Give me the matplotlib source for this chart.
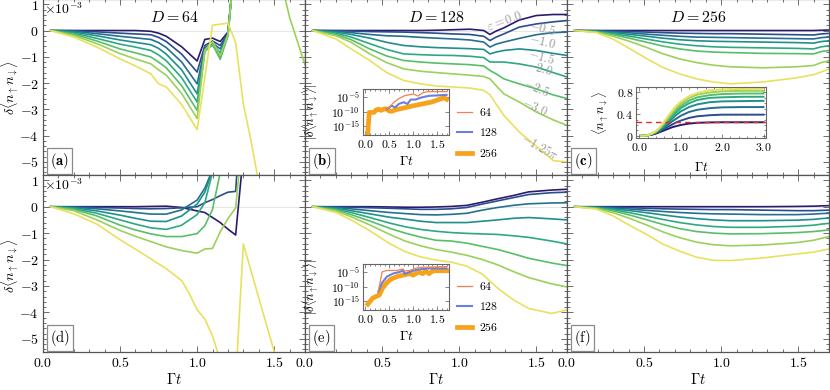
import numpy as np
import matplotlib
matplotlib.use("Agg")
import matplotlib.pyplot as plt
from matplotlib.ticker import MultipleLocator, FixedLocator, FuncFormatter, NullLocator

# ---------------------------------------------------------------- data
EPS_LABELS = [r"$\varepsilon = 0.0$", r"$-0.5$", r"$-1.0$", r"$-1.5$",
              r"$-2.0$", r"$-2.5$", r"$-3.0$", r"$-1.25\pi$"]
PANEL_TITLES = [r"$D = 64$", r"$D = 128$", r"$D = 256$"]
PANEL_TAGS = ["(a)", "(b)", "(c)", "(d)", "(e)", "(f)"]
X_TICKS = [0.0, 0.5, 1.0, 1.5]
Y_TICKS = [1, 0, -1, -2, -3, -4, -5]
BOND_DIMS = [r"$64$", r"$128$", r"$256$"]

# panel (a)  D=64, top row
T_A = [0.05, 0.2, 0.35, 0.5, 0.6, 0.7, 0.75, 0.8, 0.9, 1.0, 1.05, 1.1, 1.15, 1.2, 1.25]
A0 = [0, 0, 0, 0, 0, -0.03, -0.1, -0.22, -0.62, -1.16, -0.34, -0.29, -0.42, -0.06, 3.0]
A1 = [0, -0.01, -0.05, -0.1, -0.13, -0.16, -0.26, -0.42, -0.9, -1.58, -0.57, -0.4, -0.57, -0.1, 3.0]
A2 = [0, -0.03, -0.12, -0.22, -0.28, -0.34, -0.46, -0.65, -1.2, -2.03, -0.65, -0.48, -0.7, -0.12, 3.0]
A3 = [0, -0.06, -0.2, -0.36, -0.45, -0.54, -0.68, -0.9, -1.5, -2.41, -0.72, -0.52, -0.85, -0.15, 3.0]
A4 = [0, -0.1, -0.3, -0.52, -0.63, -0.76, -0.93, -1.15, -1.8, -2.72, -0.76, -0.55, -1.0, -0.18, 3.0]
A5 = [0, -0.14, -0.4, -0.7, -0.85, -1.01, -1.2, -1.42, -2.1, -3.04, -0.8, -0.52, -1.1, -0.2, 3.0]
T_A6 = [0.05, 0.2, 0.35, 0.5, 0.6, 0.7, 0.75, 0.8, 0.9, 1.0, 1.05, 1.1, 1.15, 1.2, 1.25, 1.5, 1.6, 1.7]
A6 = [0, -0.19, -0.5, -0.88, -1.08, -1.27, -1.5, -1.7, -2.4, -3.35, -0.75, -0.42, -0.95, -0.15, 3.0, 3.0, 0.5, -1.3]
T_A7 = [0.05, 0.2, 0.35, 0.5, 0.6, 0.7, 0.75, 0.8, 0.9, 1.0, 1.1, 1.2, 1.25, 1.3, 1.35, 1.4]
A7 = [0, -0.25, -0.63, -1.08, -1.35, -1.65, -2.03, -2.15, -2.82, -3.77, 0.2, 0.28, -0.45, -2.8, -4.2, -5.8]

# panel (b)  D=128, top row
T_B = [0.05, 0.2, 0.3, 0.42, 0.53, 0.64, 0.75, 0.85, 0.96, 1.07, 1.16, 1.2, 1.24, 1.29, 1.39, 1.5, 1.61, 1.7]
B0 = [0, 0, 0, 0, 0, 0, 0, 0.01, 0.03, 0.05, 0.0, -0.15, -0.02, 0.1, 0.4, 0.57, 0.61, 0.61]
B1 = [0, -0.01, -0.02, -0.04, -0.05, -0.06, -0.08, -0.1, -0.13, -0.15, -0.22, -0.38, -0.25, -0.13, 0.13, 0.25, 0.33, 0.38]
B2 = [0, -0.03, -0.08, -0.15, -0.2, -0.22, -0.26, -0.29, -0.32, -0.36, -0.44, -0.63, -0.52, -0.44, -0.3, -0.16, -0.08, -0.06]
B3 = [0, -0.06, -0.15, -0.29, -0.45, -0.57, -0.62, -0.65, -0.67, -0.69, -0.72, -0.89, -0.82, -0.76, -0.7, -0.76, -0.87, -0.95]
B4 = [0, -0.1, -0.25, -0.5, -0.72, -0.89, -0.92, -0.94, -0.95, -0.98, -1.03, -1.2, -1.2, -1.2, -1.27, -1.39, -1.6, -1.77]
B5 = [0, -0.15, -0.35, -0.7, -0.97, -1.14, -1.2, -1.24, -1.27, -1.3, -1.35, -1.52, -1.65, -1.84, -2.03, -2.22, -2.45, -2.59]
B6 = [0, -0.2, -0.45, -0.89, -1.22, -1.46, -1.55, -1.6, -1.65, -1.7, -1.75, -1.84, -2.1, -2.41, -2.72, -3.1, -3.4, -3.61]
B7 = [0, -0.32, -0.7, -1.14, -1.6, -1.9, -2.03, -2.11, -2.15, -2.19, -2.28, -2.45, -2.8, -3.23, -3.86, -4.4, -4.95, -5.0]

# panel (c)  D=256, top row
T_C = [0.05, 0.19, 0.3, 0.41, 0.52, 0.62, 0.73, 0.84, 0.95, 1.06, 1.27, 1.49, 1.6, 1.65, 1.7]
C0 = [0, 0, 0, 0, 0, 0, 0, 0, 0, 0, 0, 0, 0, 0.01, 0.02]
C1 = [0, -0.01, -0.02, -0.04, -0.06, -0.08, -0.1, -0.11, -0.12, -0.12, -0.14, -0.16, -0.17, -0.13, -0.11]
C2 = [0, -0.02, -0.05, -0.09, -0.14, -0.18, -0.22, -0.25, -0.26, -0.27, -0.29, -0.31, -0.32, -0.27, -0.25]
C3 = [0, -0.03, -0.08, -0.15, -0.22, -0.29, -0.35, -0.39, -0.41, -0.42, -0.44, -0.46, -0.48, -0.42, -0.39]
C4 = [0, -0.04, -0.12, -0.22, -0.33, -0.43, -0.52, -0.58, -0.62, -0.64, -0.66, -0.68, -0.7, -0.62, -0.58]
C5 = [0, -0.05, -0.16, -0.3, -0.45, -0.59, -0.7, -0.78, -0.82, -0.84, -0.87, -0.88, -0.89, -0.8, -0.76]
C6 = [0, -0.06, -0.22, -0.42, -0.65, -0.88, -1.08, -1.22, -1.32, -1.38, -1.42, -1.38, -1.33, -1.22, -1.15]
C7 = [0, -0.08, -0.33, -0.7, -1.08, -1.4, -1.65, -1.84, -1.96, -2.03, -1.96, -1.8, -1.68, -1.58, -1.46]

# panel (d)  D=64, bottom row
T_D = [0.05, 0.2, 0.35, 0.5, 0.6, 0.7, 0.8, 0.9, 1.0, 1.05, 1.1, 1.15, 1.2, 1.25, 1.3]
D0 = [0, 0, 0, 0, 0, 0.01, 0.02, -0.03, -0.16, -0.22, -0.41, -0.6, -0.85, -1.07, 2.0]
D1 = [0, -0.01, -0.03, -0.05, -0.07, -0.08, -0.07, -0.04, 0.0, 0.15, 0.27, 0.42, 0.55, 0.58, 5.0]
D2 = [0, -0.02, -0.08, -0.16, -0.22, -0.28, -0.28, -0.12, 0.25, 0.7, 1.4]
D3 = [0, -0.04, -0.16, -0.32, -0.44, -0.55, -0.56, -0.35, 0.1, 0.55, 1.35]
D4 = [0, -0.07, -0.25, -0.5, -0.66, -0.8, -0.86, -0.7, -0.3, 0.15, 1.3]
D5 = [0, -0.1, -0.35, -0.7, -0.88, -1.03, -1.13, -1.13, -1.02, -0.72, -0.1, 1.3]
D6 = [0, -0.15, -0.5, -0.9, -1.12, -1.32, -1.52, -1.66, -1.76, -1.6, -1.58, -0.95, -0.45, -0.05, 3.0]
T_D7 = [0.05, 0.2, 0.35, 0.5, 0.65, 0.8, 0.9, 0.95, 1.0, 1.05, 1.1, 1.15, 1.2, 1.25, 1.3, 1.4, 1.55]
D7 = [0, -0.27, -0.66, -1.25, -1.79, -2.35, -2.8, -3.3, -3.9, -4.25, -4.9, -5.8, -7.0, -6.6, -1.41, -3.45, -6.5]

# panel (e)  D=128, bottom row
T_E = [0.05, 0.2, 0.3, 0.42, 0.55, 0.65, 0.75, 0.85, 0.95, 1.05, 1.15, 1.25, 1.35, 1.45, 1.6, 1.7]
E0 = [0, 0, 0, 0, -0.01, -0.02, -0.02, -0.01, 0.01, 0.05, 0.17, 0.3, 0.42, 0.56, 0.63, 0.66]
E1 = [0, -0.01, -0.02, -0.04, -0.06, -0.08, -0.1, -0.1, -0.08, -0.03, 0.1, 0.22, 0.34, 0.46, 0.53, 0.55]
E2 = [0, -0.03, -0.08, -0.15, -0.22, -0.26, -0.3, -0.31, -0.29, -0.25, -0.13, -0.03, 0.05, 0.11, 0.14, 0.15]
E3 = [0, -0.06, -0.15, -0.27, -0.4, -0.47, -0.55, -0.6, -0.6, -0.6, -0.55, -0.5, -0.44, -0.41, -0.46, -0.5]
E4 = [0, -0.09, -0.22, -0.41, -0.62, -0.76, -0.86, -0.93, -0.98, -1.01, -1.03, -1.05, -1.1, -1.16, -1.3, -1.41]
E5 = [0, -0.12, -0.3, -0.54, -0.82, -1.0, -1.15, -1.27, -1.3, -1.38, -1.5, -1.62, -1.78, -1.95, -2.13, -2.23]
E6 = [0, -0.16, -0.38, -0.69, -1.05, -1.3, -1.48, -1.62, -1.72, -1.84, -2.0, -2.2, -2.45, -2.68, -2.92, -3.04]
E7 = [0, -0.22, -0.5, -0.91, -1.4, -1.7, -1.9, -2.02, -2.1, -2.25, -2.55, -3.08, -3.52, -3.85, -4.04, -3.91]

# panel (f)  D=256, bottom row
T_F = [0.05, 0.19, 0.3, 0.41, 0.52, 0.62, 0.73, 0.84, 0.95, 1.06, 1.27, 1.49, 1.6, 1.65, 1.7]
F0 = [0, 0, 0, 0, 0, 0, 0, 0, 0, 0, 0, 0.01, 0.02, 0.03, 0.04]
F1 = [0, -0.01, -0.02, -0.04, -0.06, -0.08, -0.09, -0.1, -0.11, -0.11, -0.13, -0.15, -0.15, -0.14, -0.13]
F2 = [0, -0.02, -0.05, -0.09, -0.14, -0.18, -0.22, -0.25, -0.27, -0.28, -0.3, -0.3, -0.28, -0.26, -0.25]
F3 = [0, -0.03, -0.08, -0.15, -0.23, -0.31, -0.39, -0.45, -0.5, -0.53, -0.53, -0.51, -0.48, -0.45, -0.43]
F4 = [0, -0.04, -0.12, -0.23, -0.36, -0.48, -0.6, -0.69, -0.75, -0.78, -0.78, -0.74, -0.7, -0.66, -0.63]
F5 = [0, -0.05, -0.16, -0.32, -0.5, -0.67, -0.83, -0.94, -1.0, -1.03, -1.02, -0.98, -0.94, -0.91, -0.88]
F6 = [0, -0.07, -0.23, -0.45, -0.7, -0.95, -1.17, -1.34, -1.44, -1.48, -1.45, -1.36, -1.27, -1.2, -1.13]
F7 = [0, -0.09, -0.35, -0.72, -1.06, -1.41, -1.68, -1.91, -2.03, -2.04, -1.94, -1.79, -1.72, -1.66, -1.6]

# inset (b): log10 |delta| for D = 64, 128, 256
IB_T256 = [0.05, 0.08, 0.18, 0.22, 0.28, 0.32, 0.42, 0.5, 0.55, 0.65, 0.8, 0.95, 1.1, 1.25, 1.4, 1.55, 1.65, 1.7]
IB_L256 = [-17.5, -10.3, -10.3, -9.5, -9.2, -9.6, -9.0, -9.8, -9.9, -9.3, -8.8, -8.2, -7.7, -7.2, -6.7, -5.8, -5.3, -5.8]
IB_T128 = [0.45, 0.55, 0.62, 0.7, 0.8, 0.88, 0.95, 1.05, 1.15, 1.25, 1.35, 1.5, 1.7]
IB_L128 = [-9.2, -8.0, -8.6, -7.4, -6.8, -7.4, -5.9, -5.9, -5.3, -4.9, -4.6, -4.5, -4.3]
IB_T64 = [0.45, 0.5, 0.6, 0.7, 0.82, 1.0, 1.1, 1.2, 1.3, 1.7]
IB_L64 = [-9.2, -8.5, -6.8, -5.6, -4.6, -4.0, -4.7, -3.6, -3.2, -3.2]

# inset (e)
IE_T256 = [0.05, 0.1, 0.15, 0.22, 0.29, 0.35, 0.42, 0.52, 0.66, 0.79, 0.93, 1.0, 1.06, 1.13, 1.2, 1.26, 1.33, 1.4, 1.46, 1.7]
IE_L256 = [-16.0, -15.0, -14.0, -13.4, -12.9, -10.8, -9.2, -7.6, -6.6, -6.1, -5.6, -6.1, -5.5, -5.1, -5.6, -4.7, -5.6, -4.8, -4.6, -4.6]
IE_T128 = [0.27, 0.35, 0.45, 0.59, 0.72, 0.79, 0.82, 0.93, 1.06, 1.2, 1.33, 1.7]
IE_L128 = [-11.8, -8.7, -6.6, -5.5, -5.0, -4.5, -5.7, -5.0, -4.3, -4.0, -3.8, -3.8]
IE_T64 = [0.27, 0.35, 0.45, 0.66, 0.79, 0.82, 0.93, 1.06, 1.2, 1.7]
IE_L64 = [-11.8, -5.0, -4.5, -4.5, -4.0, -4.7, -4.5, -3.7, -3.4, -3.2]

# inset (c): <n_up n_down> vs time for the eight epsilon values
IC_T = [0.05, 0.2, 0.3, 0.4, 0.5, 0.6, 0.7, 0.8, 0.9, 1.0, 1.2, 1.4, 1.7, 2.0, 2.5, 3.0]
IC0 = [0, 0.01, 0.02, 0.04, 0.07, 0.10, 0.13, 0.16, 0.18, 0.20, 0.225, 0.24, 0.247, 0.25, 0.25, 0.25]
IC1 = [0, 0.01, 0.025, 0.05, 0.085, 0.13, 0.17, 0.21, 0.25, 0.28, 0.33, 0.36, 0.38, 0.39, 0.39, 0.39]
IC2 = [0, 0.01, 0.03, 0.06, 0.1, 0.15, 0.21, 0.27, 0.32, 0.37, 0.44, 0.48, 0.51, 0.525, 0.53, 0.53]
IC3 = [0, 0.01, 0.03, 0.065, 0.115, 0.18, 0.25, 0.32, 0.39, 0.45, 0.53, 0.58, 0.62, 0.635, 0.64, 0.645]
IC4 = [0, 0.01, 0.035, 0.07, 0.13, 0.2, 0.28, 0.36, 0.44, 0.51, 0.6, 0.66, 0.7, 0.71, 0.72, 0.72]
IC5 = [0, 0.01, 0.035, 0.075, 0.14, 0.22, 0.31, 0.40, 0.48, 0.55, 0.65, 0.71, 0.75, 0.77, 0.78, 0.78]
IC6 = [0, 0.01, 0.04, 0.08, 0.15, 0.24, 0.34, 0.43, 0.52, 0.59, 0.7, 0.76, 0.8, 0.82, 0.83, 0.83]
IC7 = [0, 0.01, 0.04, 0.085, 0.16, 0.26, 0.37, 0.47, 0.56, 0.63, 0.73, 0.79, 0.84, 0.855, 0.865, 0.87]
IC_REF = 0.25

# ---------------------------------------------------------------- style
plt.rcParams["mathtext.fontset"] = "cm"
plt.rcParams["font.family"] = ["DejaVu Serif"]

W, H = 830, 390
fig = plt.figure(figsize=(W / 100, H / 100), dpi=100)


def rect(x0, y0, x1, y1):
    return [x0 / W, 1 - y1 / H, (x1 - x0) / W, (y1 - y0) / H]


COLORS = ["#2b1b6f", "#2a4d8d", "#25708f", "#1f8f8c", "#2ca982",
          "#58bf69", "#9bd15a", "#e8e15c"]
FRAME = "#555555"
LW = 1.2
LEFTS = [43, 305, 567]
PW = 262
ROWS = [(-1, 175), (175, 352)]

panels = {
    (0, 0): [(T_A, A0), (T_A, A1), (T_A, A2), (T_A, A3), (T_A, A4), (T_A, A5), (T_A6, A6), (T_A7, A7)],
    (0, 1): [(T_B, B0), (T_B, B1), (T_B, B2), (T_B, B3), (T_B, B4), (T_B, B5), (T_B, B6), (T_B, B7)],
    (0, 2): [(T_C, C0), (T_C, C1), (T_C, C2), (T_C, C3), (T_C, C4), (T_C, C5), (T_C, C6), (T_C, C7)],
    (1, 0): [(T_D, D0), (T_D, D1), (T_D, D2), (T_D, D3), (T_D, D4), (T_D, D5), (T_D, D6), (T_D7, D7)],
    (1, 1): [(T_E, E0), (T_E, E1), (T_E, E2), (T_E, E3), (T_E, E4), (T_E, E5), (T_E, E6), (T_E, E7)],
    (1, 2): [(T_F, F0), (T_F, F1), (T_F, F2), (T_F, F3), (T_F, F4), (T_F, F5), (T_F, F6), (T_F, F7)],
}

for (r, c), curves in panels.items():
    y0, y1 = ROWS[r]
    ax = fig.add_axes(rect(LEFTS[c], y0, LEFTS[c] + PW, y1))
    ax.axhline(0, color="#e6e6e6", lw=0.8, zorder=0)
    for k, (t, v) in enumerate(curves):
        ax.plot(t[:len(v)], v, color=COLORS[k], lw=LW, zorder=2 + k * 0.01)
    ax.set_xlim(0, 1.70)
    ax.set_ylim(-5.5, 1.2)
    ax.xaxis.set_major_locator(FixedLocator(X_TICKS))
    ax.xaxis.set_minor_locator(MultipleLocator(0.1))
    ax.yaxis.set_major_locator(FixedLocator(Y_TICKS))
    ax.yaxis.set_minor_locator(MultipleLocator(0.2))
    ax.tick_params(which="both", direction="in", top=True, right=True,
                   color=FRAME, width=0.6, labelsize=10, pad=3)
    ax.tick_params(which="major", length=4.5)
    ax.tick_params(which="minor", length=2.2)
    ax.xaxis.set_major_formatter(FuncFormatter(lambda v, p: f"${v:.1f}$"))
    ax.yaxis.set_major_formatter(FuncFormatter(lambda v, p: f"${int(round(v))}$"))
    if c > 0:
        ax.tick_params(labelleft=False)
    if r == 0:
        ax.tick_params(labelbottom=False)
        ax.text(0.5, 1 - 18.0 / 176, PANEL_TITLES[c], transform=ax.transAxes,
                ha="center", va="center", fontsize=11.5)
    else:
        ax.set_xlabel(r"$\Gamma t$", fontsize=10.5, labelpad=1)
    if c == 0:
        ax.text(0.003, 1 - 10.5 / 176, r"$\times 10^{-3}$", transform=ax.transAxes,
                ha="left", va="center", fontsize=10)
    for s in ax.spines.values():
        s.set_color(FRAME)
        s.set_linewidth(0.9)
    tag = PANEL_TAGS[r * 3 + c]
    txt = (r"$\mathbf{" + tag + "}$") if r == 0 else (r"$\mathrm{" + tag + "}$")
    ax.annotate(txt, xy=(0, 0), xycoords="axes fraction", xytext=(7, 4),
                textcoords="offset pixels", ha="left", va="bottom", fontsize=10.5,
                bbox=dict(boxstyle="square,pad=0.22", fc="white", ec="#8a8a8a", lw=0.9),
                zorder=20)

# y labels of the main panels
for yc in (88, 266):
    fig.text(10 / W, 1 - yc / H, r"$\delta\langle n_\uparrow n_\downarrow\rangle$",
             rotation=90, ha="center", va="center", fontsize=10)

# epsilon labels in panel (b)
EPS_POS = [(505, 21), (543, 28), (543, 42), (542, 57), (540, 68), (537, 88), (535, 108), (540, 147)]
EPS_ROT = [20, -14, -14, -16, -16, -24, -24, -30]
for lab, (x, y), rot in zip(EPS_LABELS, EPS_POS, EPS_ROT):
    fig.text(x / W, 1 - y / H, lab, rotation=rot, ha="center", va="center",
             fontsize=9, color="#9a9a9a", zorder=30)

# ---------------------------------------------------------------- log insets
C64, C128, C256 = "#f0804f", "#6b7fdc", "#f7a21b"


def log_inset(box, data, leg_xy):
    ax = fig.add_axes(rect(*box))
    ax.set_facecolor("white")
    (t256, l256), (t128, l128), (t64, l64) = data
    h256, = ax.plot(t256, 10.0 ** np.array(l256), color=C256, lw=3.4)
    h128, = ax.plot(t128, 10.0 ** np.array(l128), color=C128, lw=1.5)
    h64, = ax.plot(t64, 10.0 ** np.array(l64), color=C64, lw=0.9)
    ax.set_yscale("log")
    ax.set_xlim(-0.05, 1.75)
    ax.set_ylim(1e-18, 10 ** -2.3)
    ax.yaxis.set_major_locator(FixedLocator([1e-15, 1e-10, 1e-5]))
    ax.yaxis.set_minor_locator(NullLocator())
    ax.yaxis.set_major_formatter(FuncFormatter(lambda v, p: r"$10^{%d}$" % int(round(np.log10(v)))))
    ax.xaxis.set_major_locator(FixedLocator(X_TICKS))
    ax.xaxis.set_minor_locator(MultipleLocator(0.1))
    ax.xaxis.set_major_formatter(FuncFormatter(lambda v, p: f"${v:.1f}$"))
    ax.tick_params(which="both", direction="in", top=True, right=True, color=FRAME,
                   width=0.5, labelsize=8.5, pad=2)
    ax.tick_params(which="major", length=3)
    ax.tick_params(which="minor", length=1.5)
    for s in ax.spines.values():
        s.set_color("#666666")
        s.set_linewidth(0.8)
    ax.set_ylabel(r"$|\delta\langle n_\uparrow n_\downarrow\rangle|$", fontsize=9, labelpad=7)
    ax.set_xlabel(r"$\Gamma t$", fontsize=9.5, labelpad=3)
    ax.legend([h64, h128, h256], BOND_DIMS,
              loc="upper left", bbox_to_anchor=(leg_xy[0] / W, 1 - leg_xy[1] / H),
              bbox_transform=fig.transFigure, frameon=False, fontsize=8.5,
              handlelength=1.3, handletextpad=0.6, labelspacing=0.62,
              borderpad=0, borderaxespad=0)
    return ax


log_inset((363, 89, 449, 135),
          [(IB_T256, IB_L256), (IB_T128, IB_L128), (IB_T64, IB_L64)], (457, 106))
log_inset((363, 264, 449, 310),
          [(IE_T256, IE_L256), (IE_T128, IE_L128), (IE_T64, IE_L64)], (457, 280))

# ---------------------------------------------------------------- inset (c)
axc = fig.add_axes(rect(636, 87, 766, 138))
axc.set_facecolor("white")
for k, v in enumerate([IC0, IC1, IC2, IC3, IC4, IC5, IC6, IC7]):
    axc.plot(IC_T, v, color=COLORS[k], lw=1.4)
axc.axhline(IC_REF, color="#e8262a", lw=1.0, ls=(0, (4, 3)))
axc.set_xlim(-0.08, 3.06)
axc.set_ylim(-0.04, 0.9)
axc.xaxis.set_major_locator(FixedLocator([0.0, 1.0, 2.0, 3.0]))
axc.xaxis.set_minor_locator(MultipleLocator(0.2))
axc.xaxis.set_major_formatter(FuncFormatter(lambda v, p: f"${v:.1f}$"))
axc.yaxis.set_major_locator(FixedLocator([0.0, 0.4, 0.8]))
axc.yaxis.set_minor_locator(MultipleLocator(0.1))
axc.yaxis.set_major_formatter(FuncFormatter(lambda v, p: "$0$" if v == 0 else f"${v:.1f}$"))
axc.tick_params(which="both", direction="in", top=True, right=True, color=FRAME,
                width=0.5, labelsize=8.5, pad=2)
axc.tick_params(which="major", length=3)
axc.tick_params(which="minor", length=1.5)
for s in axc.spines.values():
    s.set_color("#666666")
    s.set_linewidth(0.8)
axc.set_ylabel(r"$\langle n_\uparrow n_\downarrow\rangle$", fontsize=9, labelpad=3)
axc.set_xlabel(r"$\Gamma t$", fontsize=9.5, labelpad=5)

fig.savefig("out.png", dpi=100)
